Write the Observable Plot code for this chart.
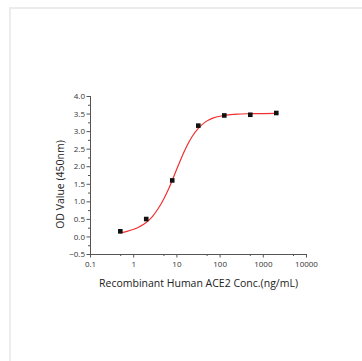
<!DOCTYPE html>
<html>
<head>
<meta charset="utf-8">
<script src="https://cdn.jsdelivr.net/npm/d3@7"></script>
<script src="https://cdn.jsdelivr.net/npm/@observablehq/plot@0.6"></script>
<style>
  html, body { margin: 0; padding: 0; background: #fff; }
  #wrap { position: relative; width: 362px; height: 361px; overflow: hidden; }
  #frame { position: absolute; left: 9px; top: 7px; width: 400px; height: 400px;
           border-top: 2px solid #ececec; border-left: 2px solid #ececec; box-sizing: border-box; }
  #chart { position: absolute; left: 0; top: 0; }
</style>
</head>
<body>
<div id="wrap"><div id="frame"></div><div id="chart"></div></div>
<script>
// Measured points
const conc = [0.49, 1.95, 7.8, 31.25, 125, 500, 2000];
const od = [0.16, 0.51, 1.61, 3.17, 3.46, 3.48, 3.53];
// Fitted curve
const curveConc = [0.49, 0.7, 1, 1.4, 1.95, 2.7, 3.7, 5, 6.5, 7.8, 10, 13, 17, 22, 31.25, 45, 70, 125, 250, 500, 1000, 2000];
const curveOD = [0.12, 0.16, 0.22, 0.30, 0.41, 0.58, 0.81, 1.09, 1.38, 1.61, 1.94, 2.28, 2.59, 2.84, 3.09, 3.27, 3.39, 3.46, 3.50, 3.51, 3.515, 3.52];
// Ticks
const xTicks = [0.1, 1, 10, 100, 1000, 10000];
const xMinor = [0.5, 5, 50, 500, 5000];
const yTicks = [-0.5, 0, 0.5, 1, 1.5, 2, 2.5, 3, 3.5, 4];
const yMinor = [-0.25, 0.25, 0.75, 1.25, 1.75, 2.25, 2.75, 3.25, 3.75];
const xTitle = "Recombinant Human ACE2 Conc.(ng/mL)";
const yTitle = "OD Value (450nm)";

const points = conc.map((c, i) => ({c, v: od[i]}));
const curve = curveConc.map((c, i) => ({c, v: curveOD[i]}));
const axisColor = "#555";

const chart = Plot.plot({
  width: 362,
  height: 361,
  marginLeft: 90,
  marginRight: 56,
  marginTop: 96,
  marginBottom: 107,
  style: {fontFamily: "'Open Sans', sans-serif", fontSize: "8px", color: "#333", background: "transparent"},
  x: {type: "log", domain: [0.1, 10000]},
  y: {domain: [-0.5, 4]},
  marks: [
    Plot.axisX({ticks: xTicks, tickFormat: d => String(d), tickSize: 3.5, tickPadding: 3, stroke: axisColor, label: null}),
    Plot.axisX({ticks: xMinor, tickFormat: null, text: null, tickSize: 2, stroke: axisColor, label: null}),
    Plot.axisY({ticks: yTicks, tickFormat: d3.format(".1f"), tickSize: 3.5, tickPadding: 2, stroke: axisColor, label: null}),
    Plot.axisY({ticks: yMinor, text: null, tickSize: 2, stroke: axisColor, label: null}),
    Plot.ruleX([0.1], {stroke: axisColor, strokeWidth: 1}),
    Plot.ruleY([-0.5], {stroke: axisColor, strokeWidth: 1}),
    Plot.line(curve, {x: "c", y: "v", curve: "monotone-x", stroke: "#f03030", strokeWidth: 1.2}),
    Plot.dot(points, {x: "c", y: "v", symbol: "square", r: 2.6, fill: "#111", stroke: "none"}),
    Plot.text([xTitle], {frameAnchor: "bottom", dy: 29, fontSize: 10.5, fill: "#222", textAnchor: "middle", lineAnchor: "middle"}),
    Plot.text([yTitle], {frameAnchor: "left", dx: -30, dy: 9, rotate: -90, fontSize: 10.5, fill: "#222", textAnchor: "middle", lineAnchor: "middle"})
  ]
});
document.getElementById("chart").appendChild(chart);
</script>
</body>
</html>
